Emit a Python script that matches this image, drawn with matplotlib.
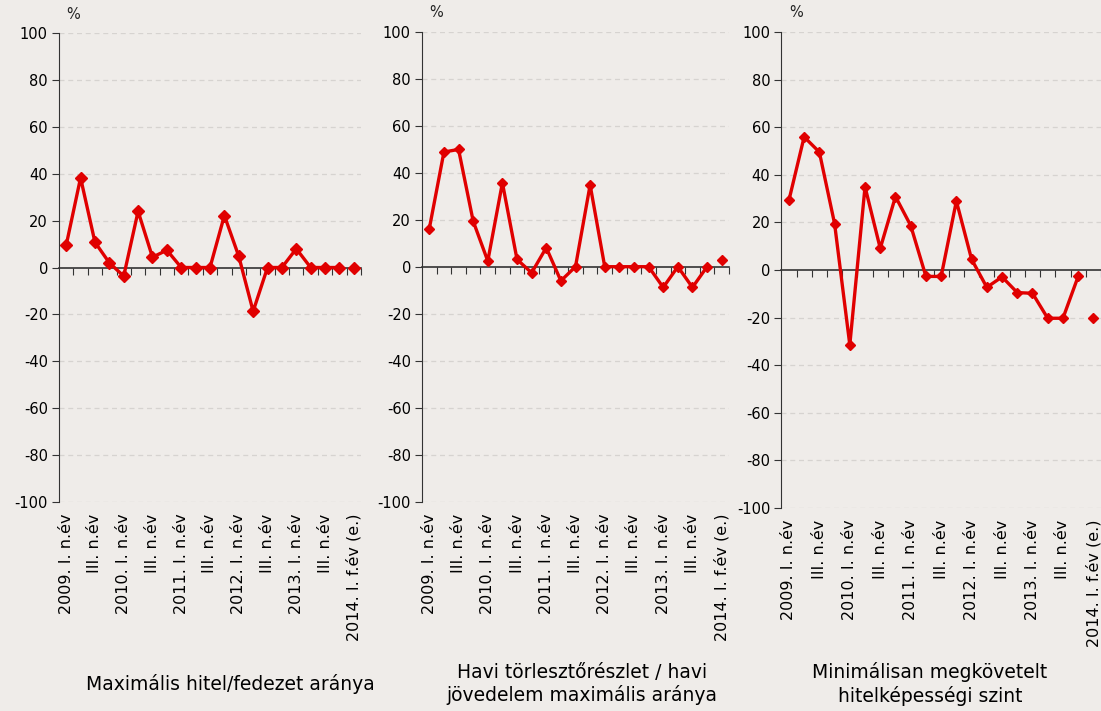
import numpy as np
import matplotlib
matplotlib.use("Agg")
from matplotlib import pyplot as plt
from matplotlib import transforms

plt.rcParams["axes.unicode_minus"] = False

# kategóriák (negyedévek, az utolsó becslés)
categories = ["2009. I. n.év", "II. n.év", "III. n.év", "IV. n.év",
              "2010. I. n.év", "II. n.év", "III. n.év", "IV. n.év",
              "2011. I. n.év", "II. n.év", "III. n.év", "IV. n.év",
              "2012. I. n.év", "II. n.év", "III. n.év", "IV. n.év",
              "2013. I. n.év", "II. n.év", "III. n.év", "IV. n.év",
              "2014. I. f.év (e.)"]

hitel_fedezet = [9.5, 38.3, 10.8, 2.0, -3.7, 24.0, 4.4, 7.4, 0, 0, 0,
                 22.2, 4.8, -18.7, 0, 0, 8.0, 0, 0, 0, 0]
torleszto_jovedelem = [16.2, 48.8, 49.9, 19.4, 2.4, 35.7, 3.1, -2.6, 8.1, -6.0, 0,
                       34.8, 0, 0, 0, 0, -8.8, 0, -8.8, 0, 2.8]
hitelkepesseg = [29.3, 56.0, 49.6, 19.5, -31.5, 35.0, 9.1, 30.9, 18.7, -2.7, -2.7,
                 29.0, 4.5, -7.3, -2.9, -9.5, -9.8, -20.3, -20.3, -2.7, -20.1]

titles = ["Maximális hitel/fedezet aránya",
          "Havi törlesztőrészlet / havi\njövedelem maximális aránya",
          "Minimálisan megkövetelt\nhitelképességi szint"]

bg = "#EFECE9"
red = "#E00000"
W, H = 1101, 711

fig = plt.figure(figsize=(W / 100, H / 100), dpi=100, facecolor=bg)

# panel helyek pixelben: bal, jobb, felső (100), alsó (-100)
boxes = [(59, 361, 33.3, 501.7),
         (422, 729, 31.7, 501.7),
         (781.3, 1101, 32.3, 507.7)]
title_x = [230, 582, 930]
marker_size = [6.5, 5.5, 5.5]

for data, title, box, tx, ms in zip([hitel_fedezet, torleszto_jovedelem, hitelkepesseg],
                                    titles, boxes, title_x, marker_size):
    l, r, t, b = box
    ax = fig.add_axes([l / W, 1 - b / H, (r - l) / W, (b - t) / H])
    ax.set_facecolor(bg)
    ax.patch.set_alpha(0)
    x = np.arange(len(data))
    ax.set_xlim(-0.5, len(data) - 0.5)
    ax.set_ylim(-100, 100)

    for v in range(-100, 101, 20):
        if v != 0:
            ax.axhline(v, color="#D6D3D0", lw=0.9, ls=(0, (4, 3)), zorder=0)

    ax.plot(x[:-1], data[:-1], color=red, lw=2.4, marker="D", ms=ms,
            zorder=3, clip_on=False)
    ax.plot(x[-1:], data[-1:], color=red, ls="none", marker="D", ms=ms,
            zorder=3, clip_on=False)

    for s in ["top", "right"]:
        ax.spines[s].set_visible(False)
    ax.spines["left"].set_color("#333333")
    ax.spines["bottom"].set_position(("data", 0))
    ax.spines["bottom"].set_color("#333333")
    ax.spines["bottom"].set_linewidth(1.2)

    ax.set_yticks(range(-100, 101, 20))
    ax.tick_params(axis="y", direction="out", length=5, color="#333333",
                   labelsize=10.5, pad=3)
    ax.set_xticks(np.arange(0.5, len(data), 1))
    ax.tick_params(axis="x", direction="out", length=5, color="#333333",
                   labelbottom=False)

    trans = transforms.blended_transform_factory(ax.transData, ax.transAxes)
    for i in range(0, len(categories), 2):
        ax.text(i, -0.025, categories[i], transform=trans, rotation=90,
                ha="center", va="top", fontsize=11.5)

    ax.text(0.45, 1.025, "%", transform=trans, ha="center", va="bottom",
            fontsize=10.5, color="#222222")

    fig.text(tx / W, 1 - 684 / H, title, ha="center", va="center",
             fontsize=13.5, linespacing=1.2)

fig.savefig("out.png", dpi=100, facecolor=bg)
